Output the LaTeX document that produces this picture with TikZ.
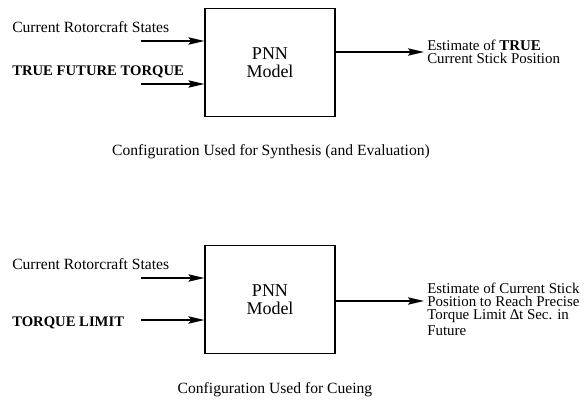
\documentclass[tikz,border=0pt]{standalone}
\usepackage{fontspec}
\setmainfont{Liberation Serif}
\usetikzlibrary{arrows.meta}

\begin{document}
\begin{tikzpicture}[x=0.75pt,y=-0.75pt,
  pnn/.style={draw, line width=0.8pt, minimum width=97.5pt, minimum height=81pt,
    align=center, inner sep=0pt, font=\fontsize{13.5}{13.75}\selectfont},
  lbl/.style={anchor=base west, inner sep=0pt, font=\fontsize{11.7}{12}\selectfont},
  bold lbl/.style={lbl, font=\fontsize{11}{12}\selectfont\bfseries},
  est/.style={align=left, inner sep=0pt, font=\fontsize{11.2}{9.8}\selectfont},
  captext/.style={anchor=base, inner sep=0pt, font=\fontsize{11.7}{12}\selectfont},
  feed/.style={line width=1.3pt, -{Stealth[length=12pt,width=5.5pt,inset=2pt]}}]

\useasboundingbox (0,0) rectangle (587,400);

% synthesis configuration
\node[pnn] (box1) at (270,62.5) {PNN\\Model};
\node[lbl] (st1) at (12,32) {Current Rotorcraft States};
\node[bold lbl] (tq1) at (12,75) {TRUE FUTURE TORQUE};
\coordinate (i1) at (141,41);
\coordinate (i2) at (141,84);
\draw[feed] (i1) -- (i1 -| box1.west);
\draw[feed] (i2) -- (i2 -| box1.west);
\node[est, anchor=west] (est1) at (427,52) {Estimate of \textbf{TRUE}\\Current Stick Position};
\coordinate (o1) at (424,52);
\draw[feed] (box1.east |- o1) -- (o1);
\node[captext] (cap1) at (271,155) {Configuration Used for Synthesis (and Evaluation)};

% cueing configuration
\node[pnn] (box2) at (270,299.5) {PNN\\Model};
\node[lbl] (st2) at (12,269) {Current Rotorcraft States};
\node[bold lbl] (tq2) at (12,326) {TORQUE LIMIT};
\coordinate (i3) at (141,278);
\coordinate (i4) at (141,320);
\draw[feed] (i3) -- (i3 -| box2.west);
\draw[feed] (i4) -- (i4 -| box2.west);
\node[est, anchor=north west] (est2) at (427,283) {Estimate of Current Stick\\
  Position to Reach Precise\\Torque Limit ∆t Sec. in\\[2pt]Future};
\coordinate (o2) at (424,301);
\draw[feed] (box2.east |- o2) -- (o2);
\node[captext] (cap2) at (275,393) {Configuration Used for Cueing};

\end{tikzpicture}
\end{document}
